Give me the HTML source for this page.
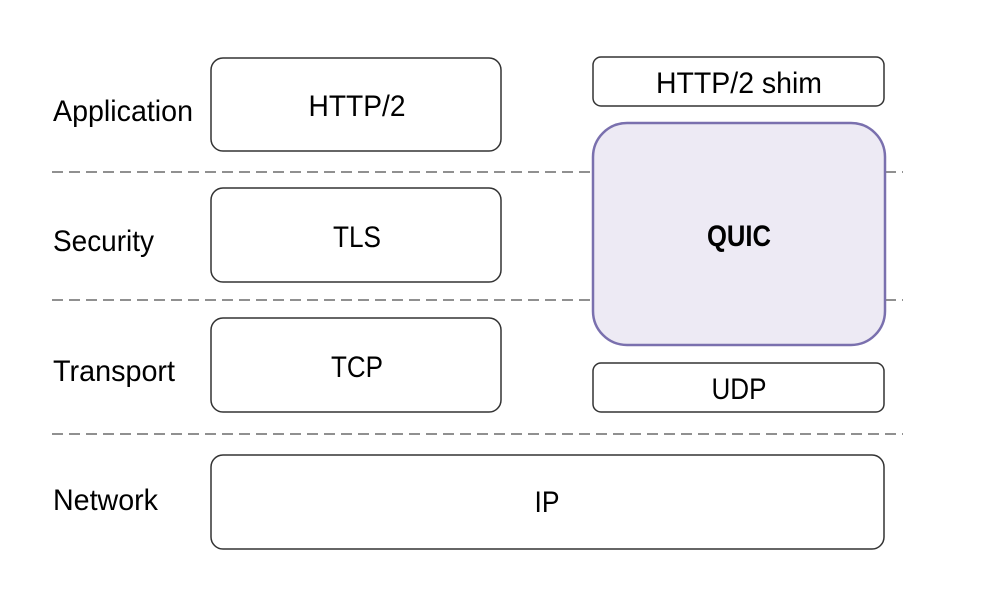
<!DOCTYPE html>
<html><head><style>html,body{margin:0;padding:0;background:#fff}svg{display:block}</style></head>
<body>
<svg width="995" height="612" viewBox="0 0 995 612" xmlns="http://www.w3.org/2000/svg" font-family="Liberation Sans, sans-serif" font-size="30" fill="#000">
<g stroke="#808080" stroke-width="1.8" stroke-dasharray="11,6">
<line x1="52" y1="172" x2="903" y2="172"/>
<line x1="52" y1="300" x2="903" y2="300"/>
<line x1="52" y1="434" x2="903" y2="434"/>
</g>
<g fill="#fff" stroke="#333" stroke-width="1.5">
<rect x="211" y="58" width="290" height="93" rx="12"/>
<rect x="211" y="188" width="290" height="94" rx="12"/>
<rect x="211" y="318" width="290" height="94" rx="12"/>
<rect x="211" y="455" width="673" height="94" rx="12"/>
<rect x="593" y="57" width="291" height="49" rx="8"/>
<rect x="593" y="363" width="291" height="49" rx="8"/>
</g>
<rect x="593" y="123" width="292" height="222" rx="34" fill="#edeaf4" stroke="#7a70ae" stroke-width="2.5"/>
<g>
<text x="53" y="121" textLength="140" lengthAdjust="spacingAndGlyphs">Application</text>
<text x="53" y="251" textLength="101" lengthAdjust="spacingAndGlyphs">Security</text>
<text x="53" y="381" textLength="122" lengthAdjust="spacingAndGlyphs">Transport</text>
<text x="53" y="510" textLength="105" lengthAdjust="spacingAndGlyphs">Network</text>
</g>
<g text-anchor="middle">
<text x="357" y="116" textLength="97" lengthAdjust="spacingAndGlyphs">HTTP/2</text>
<text x="357" y="247" textLength="48" lengthAdjust="spacingAndGlyphs">TLS</text>
<text x="357" y="377" textLength="52" lengthAdjust="spacingAndGlyphs">TCP</text>
<text x="547" y="512" textLength="25" lengthAdjust="spacingAndGlyphs">IP</text>
<text x="739" y="93" textLength="166" lengthAdjust="spacingAndGlyphs">HTTP/2 shim</text>
<text x="739" y="399" textLength="55" lengthAdjust="spacingAndGlyphs">UDP</text>
<text x="739" y="246" font-weight="bold" textLength="64" lengthAdjust="spacingAndGlyphs">QUIC</text>
</g>
</svg>
</body></html>
